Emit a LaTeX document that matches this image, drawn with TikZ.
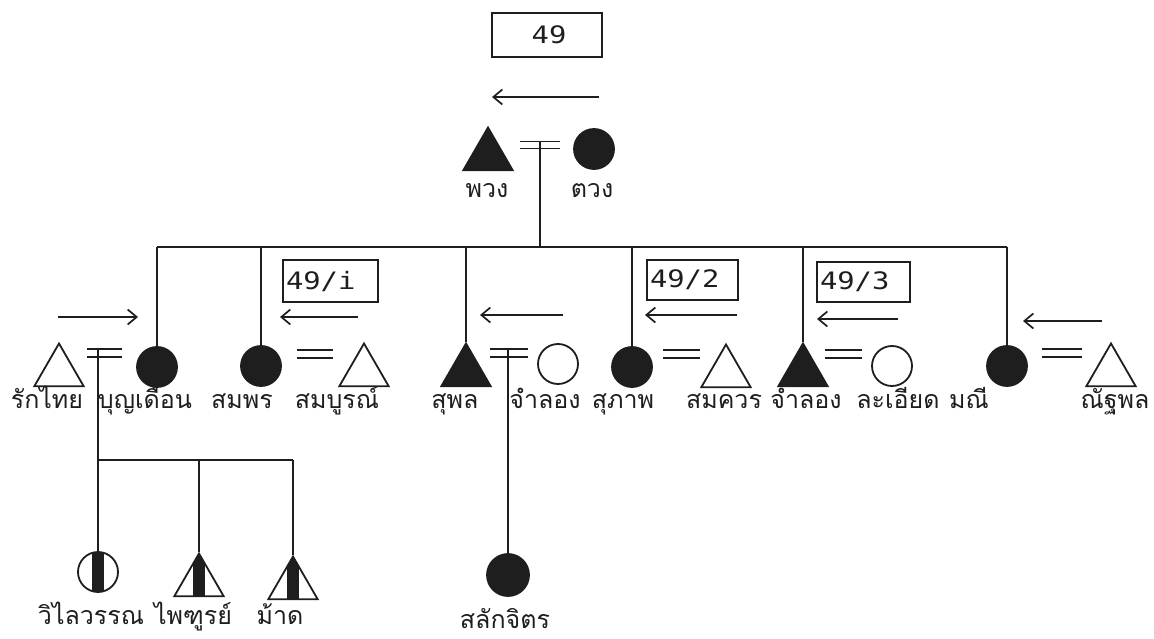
\documentclass[tikz,border=0pt]{standalone}
\usepackage{fontspec}
\newfontfamily\thaifont[Script=Thai]{Loma}
\newfontfamily\typefont[FakeStretch=1.2]{DejaVu Sans Mono}
\usetikzlibrary{shapes.geometric,arrows.meta}
\definecolor{ink}{HTML}{1E1E1E}

\begin{document}
\begin{tikzpicture}[x=1pt,y=-1pt,
  line/.style={line width=1.8pt, draw=ink},
  inh/.style={line width=1.7pt, draw=ink, -{Straight Barb[length=9pt,width=15pt]}},
  fem/.style={circle, draw=ink, line width=1.8pt, minimum size=40pt, inner sep=0pt},
  male/.style={regular polygon, regular polygon sides=3, draw=ink, line width=1.8pt,
               minimum size=57pt, inner sep=0pt},
  aff/.style={fill=ink},
  half/.style={path picture={\fill[ink] ([xshift=-6pt]path picture bounding box.north)
                 rectangle ([xshift=6pt]path picture bounding box.south);}},
  pname/.style={font=\thaifont\fontsize{25}{30}\selectfont, text=ink, anchor=base, inner sep=0pt},
  tag/.style={draw=ink, line width=1.5pt, font=\typefont\fontsize{24}{28}\selectfont,
              text=ink, inner xsep=3pt, inner ysep=0pt, align=left},
]
\useasboundingbox (0,0) rectangle (1154,639);

% ---------- first generation ----------
\node[tag, minimum width=110pt, minimum height=44pt, align=center] (t49) at (547,35) {\,49};
\coordinate (a0s) at (599,97); \coordinate (a0e) at (492,97);
\draw[inh] (a0s) -- (a0e);

\node[male, aff] (pwang) at (488,156) {};
\node[fem, aff] (tuang) at (594,149) {};
\coordinate (m0) at (540,148.5);
\draw[line] ([xshift=-20pt]m0) -- ([xshift=20pt]m0);
\draw[line] ([xshift=-20pt,yshift=7pt]m0) -- ([xshift=20pt,yshift=7pt]m0);
\node[pname] (lpwang) at (487,198) {พวง};
\node[pname] (ltuang) at (592,198) {ตวง};

% sibling bar
\coordinate (sib) at (540,247);
\draw[line] ([yshift=7pt]m0) -- (sib);

% ---------- second generation ----------
\node[male] (rak) at (59,372) {};
\node[fem, aff] (bun) at (157,367) {};
\node[fem, aff] (somporn) at (261,366) {};
\node[male] (sombun) at (364,372) {};
\node[male, aff] (supol) at (466,372) {};
\node[fem] (jamlongf) at (558,364) {};
\node[fem, aff] (supap) at (632,367) {};
\node[male] (somkuan) at (726,373) {};
\node[male, aff] (jamlongm) at (803,372) {};
\node[fem] (laiat) at (892,366) {};
\node[fem, aff] (manee) at (1007,366) {};
\node[male] (nattapol) at (1111,372) {};

\draw[line] (bun.north |- sib) -- (manee.north |- sib);
\foreach \c in {bun,somporn,supol,supap,jamlongm,manee}
  \draw[line] (\c.north |- sib) -- (\c.north);

% marriages
\foreach \m/\x/\y/\h in {m1/104.5/357/17.5, m2/315/358/18, m3/509/357/19,
                         m4/681.5/358/18.5, m5/843.5/358/18.5, m6/1062/357/20}{
  \coordinate (\m) at (\x,\y);
  \draw[line] ([xshift=-\h pt]\m) -- ([xshift=\h pt]\m);
  \draw[line] ([xshift=-\h pt,yshift=8pt]\m) -- ([xshift=\h pt,yshift=8pt]\m);
}

% register tags
\node[tag, minimum width=95pt, minimum height=42pt, text width=89pt] (t1) at (330.5,281) {49/i};
\node[tag, minimum width=91pt, minimum height=40pt, text width=85pt] (t2) at (692.5,280) {49/2};
\node[tag, minimum width=93pt, minimum height=40pt, text width=87pt] (t3) at (863.5,282) {49/3};

% inheritance arrows
\foreach \n/\xs/\xe/\y in {a1/58/138/317, a2/358/280/317, a3/563/480/315,
                           a4/737/645/315, a5/898/817/319, a6/1102/1023/321}{
  \coordinate (\n s) at (\xs,\y); \coordinate (\n e) at (\xe,\y);
  \draw[inh] (\n s) -- (\n e);
}

% names, second generation
\node[pname] (lrak) at (47,408) {รักไทย};
\node[pname] (lbun) at (145,408) {บุญเดือน};
\node[pname] (lsomporn) at (242,408) {สมพร};
\node[pname] (lsombun) at (337,408) {สมบูรณ์};
\node[pname] (lsupol) at (455,408) {สุพล};
\node[pname] (ljamlongf) at (545,408) {จำลอง};
\node[pname] (lsupap) at (623,408) {สุภาพ};
\node[pname] (lsomkuan) at (724,408) {สมควร};
\node[pname] (ljamlongm) at (806,408) {จำลอง};
\node[pname] (llaiat) at (898,408) {ละเอียด};
\node[pname] (lmanee) at (969,408) {มณี};
\node[pname] (lnattapol) at (1115,408) {ณัฐพล};

% ---------- third generation ----------
\node[fem, half] (wilai) at (98,572) {};
\node[male, half] (phaitoon) at (199,582) {};
\node[male, half] (mad) at (293,585) {};
\node[fem, aff, minimum size=42pt] (salak) at (508,575) {};

\coordinate (kids) at (98,460);
\draw[line] ([yshift=8pt]m1 -| wilai.north) -- (wilai.north);
\draw[line] (kids) -- (mad.north |- kids);
\draw[line] (phaitoon.north |- kids) -- (phaitoon.north);
\draw[line] (mad.north |- kids) -- (mad.north);
\draw[line] ([yshift=8pt]m3 -| salak.north) -- (salak.north);

\node[pname] (lwilai) at (91,624) {วิไลวรรณ};
\node[pname] (lphaitoon) at (193,624) {ไพฑูรย์};
\node[pname] (lmad) at (280,624) {ม้าด};
\node[pname] (lsalak) at (505,628) {สลักจิตร};
\end{tikzpicture}
\end{document}
